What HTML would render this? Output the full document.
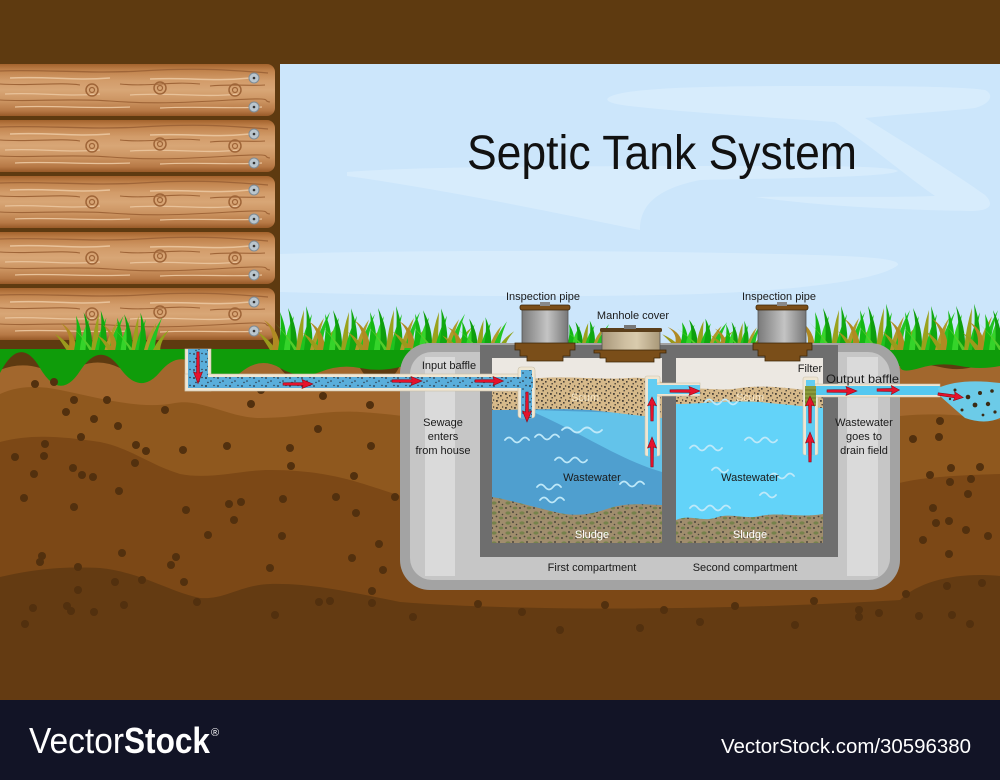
<!DOCTYPE html>
<html>
<head>
<meta charset="utf-8">
<style>
html,body{margin:0;padding:0;background:#5e3a10;}
svg{display:block;}
text{font-family:"Liberation Sans",sans-serif;}
</style>
</head>
<body>
<svg width="1000" height="780" viewBox="0 0 1000 780" xmlns="http://www.w3.org/2000/svg">
<defs>
  <linearGradient id="wood" x1="0" y1="0" x2="0" y2="1">
    <stop offset="0" stop-color="#a3622c"/>
    <stop offset="0.12" stop-color="#c0824b"/>
    <stop offset="0.32" stop-color="#d29c6a"/>
    <stop offset="0.5" stop-color="#d8a676"/>
    <stop offset="0.72" stop-color="#cb9360"/>
    <stop offset="0.9" stop-color="#b67845"/>
    <stop offset="1" stop-color="#985a28"/>
  </linearGradient>
  <linearGradient id="cylG" x1="0" y1="0" x2="1" y2="0">
    <stop offset="0" stop-color="#7a7a7a"/>
    <stop offset="0.35" stop-color="#a9a9a9"/>
    <stop offset="0.55" stop-color="#c4c4c4"/>
    <stop offset="0.8" stop-color="#999"/>
    <stop offset="1" stop-color="#777"/>
  </linearGradient>
  <linearGradient id="manG" x1="0" y1="0" x2="1" y2="0">
    <stop offset="0" stop-color="#a8977a"/>
    <stop offset="0.4" stop-color="#cfc0a2"/>
    <stop offset="0.6" stop-color="#d9cbad"/>
    <stop offset="1" stop-color="#a99878"/>
  </linearGradient>
  <pattern id="scumP" width="9" height="7" patternUnits="userSpaceOnUse">
    <rect width="9" height="7" fill="#d6b98a"/>
    <rect x="1" y="1" width="1.8" height="1.8" fill="#4a4238"/>
    <rect x="5" y="3" width="1.6" height="1.6" fill="#4a4238"/>
    <rect x="2.5" y="5" width="1.4" height="1.4" fill="#4a4238"/>
    <rect x="7" y="0.3" width="1.2" height="1.4" fill="#4a4238"/>
  </pattern>
  <pattern id="sludP" width="14" height="10" patternUnits="userSpaceOnUse">
    <rect width="14" height="10" fill="#a08d6d"/>
    <ellipse cx="4" cy="3" rx="2.6" ry="1.6" fill="#76824c"/>
    <ellipse cx="11" cy="8" rx="2.2" ry="1.4" fill="#76824c"/>
    <circle cx="9" cy="2" r="1" fill="#4b463c"/>
    <circle cx="2" cy="8" r="1" fill="#4b463c"/>
    <circle cx="12.5" cy="4.5" r="0.8" fill="#4b463c"/>
    <circle cx="6.5" cy="6.5" r="0.9" fill="#4b463c"/>
  </pattern>
  <pattern id="pspk" width="12" height="8" patternUnits="userSpaceOnUse">
    <circle cx="2" cy="2" r="0.9" fill="#2a3440"/>
    <circle cx="7" cy="5" r="0.8" fill="#2a3440"/>
    <circle cx="10" cy="1.5" r="0.7" fill="#2a3440"/>
    <circle cx="4" cy="6.5" r="0.7" fill="#2a3440"/>
  </pattern>
  <g id="log">
    <rect x="-10" y="0" width="285" height="52" rx="8" fill="url(#wood)"/>
    <path d="M0,7 C40,5 90,10 140,7 S220,5 268,9" stroke="#9f6538" stroke-width="1.3" fill="none"/>
    <path d="M10,14 C50,12 70,17 110,14 M150,15 C190,13 210,18 250,14" stroke="#e8c29a" stroke-width="1.5" fill="none"/>
    <path d="M0,20 C30,22 60,18 80,21 M120,20 C150,23 170,17 200,20 M210,22 C230,20 250,22 265,21" stroke="#9f6538" stroke-width="1.1" fill="none"/>
    <path d="M5,30 C40,28 60,33 100,30 M130,31 C170,28 200,34 240,30" stroke="#e8c29a" stroke-width="1.3" fill="none"/>
    <path d="M0,36 C30,38 70,34 110,37 S180,39 230,36 S260,37 270,38" stroke="#9f6538" stroke-width="1.1" fill="none"/>
    <path d="M15,43 C50,41 90,45 130,43 M160,44 C200,42 230,45 262,43" stroke="#e8c29a" stroke-width="1.2" fill="none"/>
    <circle cx="92" cy="26" r="6" fill="none" stroke="#9f6538" stroke-width="1.5"/>
    <circle cx="92" cy="26" r="2.5" fill="none" stroke="#9f6538" stroke-width="1.2"/>
    <circle cx="160" cy="24" r="6" fill="none" stroke="#9f6538" stroke-width="1.5"/>
    <circle cx="160" cy="24" r="2.5" fill="none" stroke="#9f6538" stroke-width="1.2"/>
    <circle cx="235" cy="26" r="6" fill="none" stroke="#9f6538" stroke-width="1.5"/>
    <circle cx="235" cy="26" r="2.5" fill="none" stroke="#9f6538" stroke-width="1.2"/>
    <circle cx="254" cy="14" r="5" fill="#b9c5cd" stroke="#7f8b94" stroke-width="1"/>
    <circle cx="254" cy="14" r="1.3" fill="#333"/>
    <circle cx="254" cy="43" r="5" fill="#b9c5cd" stroke="#7f8b94" stroke-width="1"/>
    <circle cx="254" cy="43" r="1.3" fill="#333"/>
  </g>
  <g id="clump">
    <path d="M-30,0 Q-36,-10 -42,-18 Q-30,-10 -24,0Z" fill="#9a9a1c"/>
    <path d="M-28,0 Q-24,-18 -36,-30 Q-20,-20 -20,0Z" fill="#b08a22"/>
    <path d="M-22,0 Q-18,-22 -20,-38 Q-12,-20 -14,0Z" fill="#14b814"/>
    <path d="M-16,0 Q-14,-20 -6,-34 Q-10,-16 -8,0Z" fill="#35d42a"/>
    <path d="M-10,0 Q-8,-24 -12,-42 Q-2,-22 -3,0Z" fill="#0e9e0e"/>
    <path d="M-6,0 Q-14,-16 -26,-28 Q-12,-14 -2,0Z" fill="#52cc2a"/>
    <path d="M-4,0 Q-2,-22 4,-40 Q3,-18 3,0Z" fill="#9aa11c"/>
    <path d="M0,0 Q4,-20 12,-36 Q8,-16 8,0Z" fill="#1fc21f"/>
    <path d="M4,0 Q8,-26 6,-44 Q14,-22 12,0Z" fill="#10a810"/>
    <path d="M10,0 Q14,-18 24,-32 Q18,-14 17,0Z" fill="#b09a2a"/>
    <path d="M14,0 Q20,-22 30,-38 Q22,-14 22,0Z" fill="#22c522"/>
    <path d="M20,0 Q26,-14 38,-24 Q28,-10 28,0Z" fill="#8fa21a"/>
  </g>
  <path id="arr" d="M0,-1.2 L20,-1.5 L19,-4.5 L30,0 L19,4.5 L20,1.5 L0,1.2Z" fill="#e5122c" stroke="#8b0a14" stroke-width="0.6"/>
</defs>

<!-- background -->
<rect width="1000" height="780" fill="#5e3a10"/>

<!-- sky -->
<rect x="280" y="64" width="720" height="290" fill="#cce6fb"/>
<g fill="#d7ecfc">
<path d="M608,98 C620,88 700,86 800,86 C880,86 960,86 985,90 C995,95 990,104 975,108 C940,112 900,114 865,118 C900,140 950,170 985,195 C995,205 990,211 970,211 C900,210 820,206 755,197 C800,196 880,198 935,196 C905,175 870,145 835,122 C780,118 680,112 630,106 C612,104 605,101 608,98Z"/>
<path d="M347,172 C420,166 600,166 750,166 C830,166 890,166 898,171 C890,177 800,178 700,180 C650,190 640,210 640,230 C600,222 450,190 347,176Z"/>
<path d="M280,254 C400,250 600,250 780,254 C860,256 900,258 898,265 C880,280 800,290 700,294 C560,298 420,296 280,292Z"/>
</g>

<text x="467" y="169" font-size="48" textLength="390" lengthAdjust="spacingAndGlyphs" fill="#111">Septic Tank System</text>

<!-- soil -->
<path d="M0,370 Q20,362 40,368 T80,366 T120,368 T160,364 T200,369 T240,365 T280,368 T320,364 T360,368 T400,366 L900,366 Q920,362 940,367 T980,365 T1000,367 V700 H0Z" fill="#a2672d"/>
<path d="M0,394 C20,385 40,386 60,390 C100,398 140,410 175,403 C200,398 230,418 260,418 C300,418 320,410 360,412 C380,413 400,416 420,418 L900,416 C940,412 970,416 1000,420 V700 H0Z" fill="#8f581e"/>
<path d="M0,442 C30,434 60,436 100,442 C130,448 150,465 180,474 C210,480 240,470 270,470 C310,470 340,476 370,486 C390,492 400,497 420,500 L880,490 C900,480 930,476 1000,474 V700 H0Z" fill="#7c4816"/>
<path d="M0,577 C30,570 60,566 100,568 C140,572 170,592 200,598 C225,600 240,585 270,584 C310,583 350,592 400,602 C500,610 700,612 900,600 C920,580 960,572 1000,576 V700 H0Z" fill="#643b12"/>
<!-- green strip -->
<path d="M0,349 H1000 V366 Q980,370 960,366 T920,368 T900,366 L400,367 Q380,372 360,368 T320,372 T280,368 T240,373 T200,369 T160,372 T120,368 T80,371 T40,368 T0,373Z" fill="#0f9c0a"/>

<!-- soil dots -->
<g fill="#52300e">
<circle cx="35" cy="384" r="4"/><circle cx="54" cy="382" r="4"/><circle cx="74" cy="400" r="4"/><circle cx="66" cy="412" r="4"/><circle cx="107" cy="400" r="4"/><circle cx="94" cy="419" r="4"/><circle cx="118" cy="426" r="4"/><circle cx="81" cy="437" r="4"/><circle cx="45" cy="444" r="4"/><circle cx="44" cy="456" r="4"/><circle cx="15" cy="457" r="4"/><circle cx="34" cy="474" r="4"/><circle cx="73" cy="468" r="4"/><circle cx="82" cy="475" r="4"/><circle cx="93" cy="477" r="4"/><circle cx="136" cy="445" r="4"/><circle cx="146" cy="451" r="4"/><circle cx="135" cy="463" r="4"/><circle cx="165" cy="410" r="4"/><circle cx="183" cy="450" r="4"/><circle cx="227" cy="446" r="4"/><circle cx="251" cy="404" r="4"/><circle cx="261" cy="390" r="4"/><circle cx="290" cy="448" r="4"/><circle cx="291" cy="466" r="4"/><circle cx="323" cy="396" r="4"/><circle cx="318" cy="429" r="4"/><circle cx="370" cy="405" r="4"/><circle cx="371" cy="446" r="4"/><circle cx="354" cy="476" r="4"/><circle cx="336" cy="497" r="4"/><circle cx="395" cy="497" r="4"/><circle cx="356" cy="513" r="4"/><circle cx="379" cy="544" r="4"/><circle cx="352" cy="558" r="4"/><circle cx="383" cy="570" r="4"/><circle cx="283" cy="499" r="4"/><circle cx="282" cy="536" r="4"/><circle cx="229" cy="504" r="4"/><circle cx="241" cy="502" r="4"/><circle cx="234" cy="520" r="4"/><circle cx="208" cy="535" r="4"/><circle cx="186" cy="510" r="4"/><circle cx="119" cy="491" r="4"/><circle cx="74" cy="507" r="4"/><circle cx="24" cy="498" r="4"/><circle cx="122" cy="553" r="4"/><circle cx="176" cy="557" r="4"/><circle cx="171" cy="565" r="4"/><circle cx="42" cy="556" r="4"/><circle cx="40" cy="562" r="4"/><circle cx="78" cy="567" r="4"/><circle cx="78" cy="590" r="4"/><circle cx="115" cy="582" r="4"/><circle cx="142" cy="580" r="4"/><circle cx="184" cy="582" r="4"/><circle cx="197" cy="602" r="4"/><circle cx="270" cy="568" r="4"/><circle cx="124" cy="605" r="4"/><circle cx="94" cy="612" r="4"/><circle cx="67" cy="606" r="4"/><circle cx="71" cy="611" r="4"/><circle cx="33" cy="608" r="4"/><circle cx="25" cy="624" r="4"/><circle cx="275" cy="615" r="4"/><circle cx="319" cy="602" r="4"/><circle cx="330" cy="601" r="4"/><circle cx="372" cy="591" r="4"/><circle cx="372" cy="603" r="4"/><circle cx="413" cy="617" r="4"/>
<circle cx="940" cy="421" r="4"/><circle cx="913" cy="439" r="4"/><circle cx="939" cy="437" r="4"/><circle cx="951" cy="468" r="4"/><circle cx="980" cy="467" r="4"/><circle cx="930" cy="475" r="4"/><circle cx="950" cy="482" r="4"/><circle cx="971" cy="479" r="4"/><circle cx="968" cy="494" r="4"/><circle cx="933" cy="508" r="4"/><circle cx="936" cy="523" r="4"/><circle cx="949" cy="521" r="4"/><circle cx="966" cy="530" r="4"/><circle cx="988" cy="536" r="4"/><circle cx="923" cy="540" r="4"/><circle cx="949" cy="554" r="4"/><circle cx="947" cy="586" r="4"/><circle cx="982" cy="583" r="4"/><circle cx="906" cy="594" r="4"/><circle cx="814" cy="601" r="4"/><circle cx="859" cy="610" r="4"/><circle cx="859" cy="617" r="4"/><circle cx="879" cy="613" r="4"/><circle cx="919" cy="616" r="4"/><circle cx="952" cy="615" r="4"/><circle cx="970" cy="624" r="4"/><circle cx="795" cy="625" r="4"/>
<circle cx="478" cy="604" r="4"/><circle cx="522" cy="612" r="4"/><circle cx="605" cy="605" r="4"/><circle cx="664" cy="610" r="4"/><circle cx="700" cy="622" r="4"/><circle cx="735" cy="606" r="4"/><circle cx="560" cy="630" r="4"/><circle cx="640" cy="628" r="4"/>
</g>

<!-- logs -->
<use href="#log" x="0" y="64"/>
<use href="#log" x="0" y="120"/>
<use href="#log" x="0" y="176"/>
<use href="#log" x="0" y="232"/>
<use href="#log" x="0" y="288"/>

<!-- grass -->
<use href="#clump" transform="translate(95,350) scale(0.95,0.9)"/>
<use href="#clump" transform="translate(135,350) scale(0.9,0.85)"/>
<use href="#clump" transform="translate(300,350) scale(1,1)"/>
<use href="#clump" transform="translate(345,350) scale(1,0.95)"/>
<use href="#clump" transform="translate(390,350) scale(1,1)"/>
<use href="#clump" transform="translate(435,348) scale(1,0.9)"/>
<use href="#clump" transform="translate(480,348) scale(0.9,0.7)"/>
<use href="#clump" transform="translate(585,345) scale(0.8,0.55)"/>
<use href="#clump" transform="translate(700,345) scale(0.9,0.6)"/>
<use href="#clump" transform="translate(740,345) scale(0.7,0.55)"/>
<use href="#clump" transform="translate(835,350) scale(1,1)"/>
<use href="#clump" transform="translate(880,350) scale(1,1.05)"/>
<use href="#clump" transform="translate(925,350) scale(1,1)"/>
<use href="#clump" transform="translate(968,350) scale(1,1.05)"/>
<use href="#clump" transform="translate(1005,350) scale(1,0.95)"/>

<!-- tank -->
<rect x="400" y="343" width="500" height="247" rx="30" fill="#a3a3a3"/>
<rect x="410" y="352" width="480" height="228" rx="22" fill="#c6c6c6"/>
<rect x="425" y="357" width="30" height="219" fill="#dadada"/>
<rect x="847" y="357" width="31" height="219" fill="#dadada"/>
<rect x="480" y="345" width="358" height="212" fill="#6e6e6e"/>

<!-- compartment 1 -->
<rect x="492" y="358" width="170" height="185" fill="#ece8e2"/>
<rect x="492" y="400" width="170" height="125" fill="#4f9fcf"/>
<path d="M533,410 L662,414 L662,472 C620,460 580,432 533,412Z" fill="#63c3ea"/>
<path d="M492,388 C510,384 520,380 540,378 C570,376 600,380 630,378 C645,377 655,380 662,382 L662,418 C640,416 610,412 590,410 C560,408 520,410 492,410Z" fill="url(#scumP)"/>
<path d="M492,497 C510,500 530,506 555,512 C575,517 590,515 610,508 C630,502 650,505 662,505 L662,543 L492,543Z" fill="url(#sludP)"/>
<!-- compartment 2 -->
<rect x="676" y="358" width="147" height="185" fill="#ece8e2"/>
<rect x="676" y="398" width="147" height="130" fill="#63d3f9"/>
<path d="M676,390 C700,386 720,392 740,388 C770,384 800,390 823,392 L823,408 C800,406 780,404 760,402 C730,400 700,404 676,404Z" fill="url(#scumP)"/>
<path d="M676,520 C690,514 700,522 715,518 C730,512 745,520 760,516 C780,512 800,518 823,514 L823,543 L676,543Z" fill="url(#sludP)"/>

<!-- waves -->
<g stroke="#bfe9f9" stroke-width="1.8" fill="none" stroke-linecap="round">
<path d="M505,440 q4,-5 8,0 t8,0 t8,0"/>
<path d="M535,437 q4,-5 8,0 t8,0 t8,0"/>
<path d="M562,430 q5,-5 10,0 t10,0 t10,0 t10,0"/>
<path d="M555,460 q4,-5 8,0 t8,0 t8,0 t8,0"/>
<path d="M537,487 q4,-5 8,0 t8,0 t8,0"/>
<path d="M540,500 q4,-5 8,0 t8,0 t8,0"/>
<path d="M620,484 q4,-5 8,0 t8,0 t8,0"/>
<path d="M705,402 q4,-5 8,0 t8,0 t8,0 t8,0"/>
<path d="M745,440 q4,-5 8,0 t8,0 t8,0 t8,0"/>
<path d="M690,448 q4,-5 8,0 t8,0 t8,0 t8,0"/>
<path d="M770,476 q4,-5 8,0 t8,0 t8,0"/>
<path d="M760,495 q4,-5 8,0 t8,0"/>
<path d="M690,508 q4,-5 8,0 t8,0 t8,0 t8,0 t8,0"/>
<path d="M712,470 q4,-5 8,0 t8,0"/>
</g>

<!-- inspection pipes & manhole -->
<rect x="522" y="308" width="46" height="36" fill="url(#cylG)" stroke="#555" stroke-width="0.8"/>
<rect x="520" y="305" width="50" height="5" rx="2" fill="#7a4e19" stroke="#3e2708" stroke-width="0.8"/>
<rect x="540" y="302" width="10" height="4" fill="#888"/>
<path d="M515,343 H575 V350 H570 V356 H563 V361 H527 V356 H520 V350 H515Z" fill="#7a4e19" stroke="#3e2708" stroke-width="0.8"/>

<rect x="602" y="330" width="58" height="21" fill="url(#manG)" stroke="#555" stroke-width="0.8"/>
<rect x="600" y="328" width="62" height="4" rx="1.5" fill="#5a3e1a"/>
<rect x="624" y="325" width="12" height="4" fill="#777"/>
<path d="M594,350 H666 V353 H660 V358 H654 V362 H606 V358 H600 V353 H594Z" fill="#7a4e19" stroke="#3e2708" stroke-width="0.8"/>

<rect x="758" y="308" width="48" height="36" fill="url(#cylG)" stroke="#555" stroke-width="0.8"/>
<rect x="756" y="305" width="52" height="5" rx="2" fill="#7a4e19" stroke="#3e2708" stroke-width="0.8"/>
<rect x="777" y="302" width="10" height="4" fill="#888"/>
<path d="M753,343 H812 V350 H807 V356 H800 V361 H765 V356 H758 V350 H753Z" fill="#7a4e19" stroke="#3e2708" stroke-width="0.8"/>

<!-- input pipe -->
<rect x="185" y="349" width="26" height="42" fill="#efe6d2" stroke="#c9bfa8" stroke-width="0.6"/>
<rect x="185" y="374" width="350" height="17" fill="#efe6d2" stroke="#c9bfa8" stroke-width="0.6"/>
<rect x="518" y="367" width="17" height="51" rx="3" fill="#efe6d2" stroke="#c9bfa8" stroke-width="0.6"/>
<rect x="188" y="349" width="20" height="39" fill="#5aaedb"/>
<rect x="188" y="377" width="345" height="11" fill="#5aaedb"/>
<rect x="521" y="370" width="11" height="48" fill="#5aaedb"/>
<rect x="188" y="349" width="20" height="39" fill="url(#pspk)"/>
<rect x="188" y="377" width="345" height="11" fill="url(#pspk)"/>
<rect x="521" y="370" width="11" height="48" fill="url(#pspk)"/>

<!-- transfer pipe -->
<rect x="645" y="376" width="15" height="80" rx="2" fill="#efe6d2" stroke="#c9bfa8" stroke-width="0.6"/>
<rect x="657" y="383" width="43" height="13" fill="#efe6d2" stroke="#c9bfa8" stroke-width="0.6"/>
<rect x="648" y="379" width="9" height="77" fill="#62cdf2"/>
<rect x="648" y="385" width="52" height="9" fill="#62cdf2"/>

<!-- filter / output pipe -->
<rect x="803" y="377" width="15" height="78" rx="2" fill="#efe6d2" stroke="#c9bfa8" stroke-width="0.6"/>
<rect x="815" y="384" width="125" height="13" fill="#efe6d2" stroke="#c9bfa8" stroke-width="0.6"/>
<rect x="806" y="380" width="9" height="75" fill="#62cdf2"/>
<rect x="810" y="386" width="130" height="9" fill="#55c8f0"/>
<rect x="805" y="386" width="11" height="20" fill="#8a9b3a"/>
<path d="M805,390 H816 M805,394 H816 M805,398 H816 M805,402 H816" stroke="#5d6a22" stroke-width="0.8"/>

<!-- drain blob -->
<path d="M938,388 Q960,378 1000,383 V418 Q985,425 965,418 Q950,405 940,396Z" fill="#6ccbe8"/>
<g fill="#3a2a14">
<circle cx="955" cy="390" r="1.5"/><circle cx="968" cy="397" r="2.3"/><circle cx="980" cy="393" r="2"/><circle cx="992" cy="391" r="1.8"/><circle cx="975" cy="405" r="2.4"/><circle cx="988" cy="404" r="2.2"/><circle cx="962" cy="410" r="1.5"/><circle cx="995" cy="412" r="1.6"/><circle cx="983" cy="415" r="1.4"/><circle cx="950" cy="399" r="1.2"/>
</g>

<!-- arrows -->
<use href="#arr" transform="translate(198,352) rotate(90) scale(1.05,1)"/>
<use href="#arr" transform="translate(283,384)"/>
<use href="#arr" transform="translate(392,381)"/>
<use href="#arr" transform="translate(475,381) scale(0.95,1)"/>
<use href="#arr" transform="translate(527,392) rotate(90)"/>
<use href="#arr" transform="translate(652,421) rotate(-90) scale(0.8,1)"/>
<use href="#arr" transform="translate(652,467) rotate(-90)"/>
<use href="#arr" transform="translate(670,391)"/>
<use href="#arr" transform="translate(810,423) rotate(-90) scale(0.9,1)"/>
<use href="#arr" transform="translate(810,462) rotate(-90)"/>
<use href="#arr" transform="translate(827,391)"/>
<use href="#arr" transform="translate(877,390) scale(0.75,1)"/>
<use href="#arr" transform="translate(938,394) rotate(8) scale(0.85,1)"/>

<!-- labels -->
<g font-size="11" fill="#1a1a1a" text-anchor="middle">
<text x="543" y="300">Inspection pipe</text>
<text x="779" y="300">Inspection pipe</text>
<text x="633" y="319">Manhole cover</text>
<text x="449" y="369">Input baffle</text>
<text x="443" y="426">Sewage</text>
<text x="443" y="440">enters</text>
<text x="443" y="454">from house</text>
<text x="592" y="481">Wastewater</text>
<text x="750" y="481">Wastewater</text>
<text x="592" y="571">First compartment</text>
<text x="745" y="571">Second compartment</text>
<text x="810" y="372">Filter</text>
<text x="864" y="426">Wastewater</text>
<text x="864" y="440">goes to</text>
<text x="864" y="454">drain field</text>
</g>
<text x="826" y="383" font-size="12" fill="#1a1a1a" textLength="73" lengthAdjust="spacingAndGlyphs">Output baffle</text>
<g font-size="11" text-anchor="middle">
<text x="585" y="401" fill="#f6e7c8">Scum</text>
<text x="750" y="401" fill="#f6e7c8">Scum</text>
<text x="592" y="538" fill="#ffffff">Sludge</text>
<text x="750" y="538" fill="#ffffff">Sludge</text>
</g>

<!-- bottom bar -->
<rect x="0" y="700" width="1000" height="80" fill="#121426"/>
<text x="29" y="753" font-size="36" fill="#ffffff" textLength="95" lengthAdjust="spacingAndGlyphs" style="font-weight:300">Vector</text>
<text x="124" y="753" font-size="36" font-weight="bold" fill="#ffffff" textLength="86" lengthAdjust="spacingAndGlyphs">Stock</text>
<text x="211" y="736" font-size="11" fill="#ffffff">®</text>
<text x="721" y="753" font-size="20" fill="#ffffff" textLength="250" lengthAdjust="spacingAndGlyphs">VectorStock.com/30596380</text>
</svg>
</body>
</html>
